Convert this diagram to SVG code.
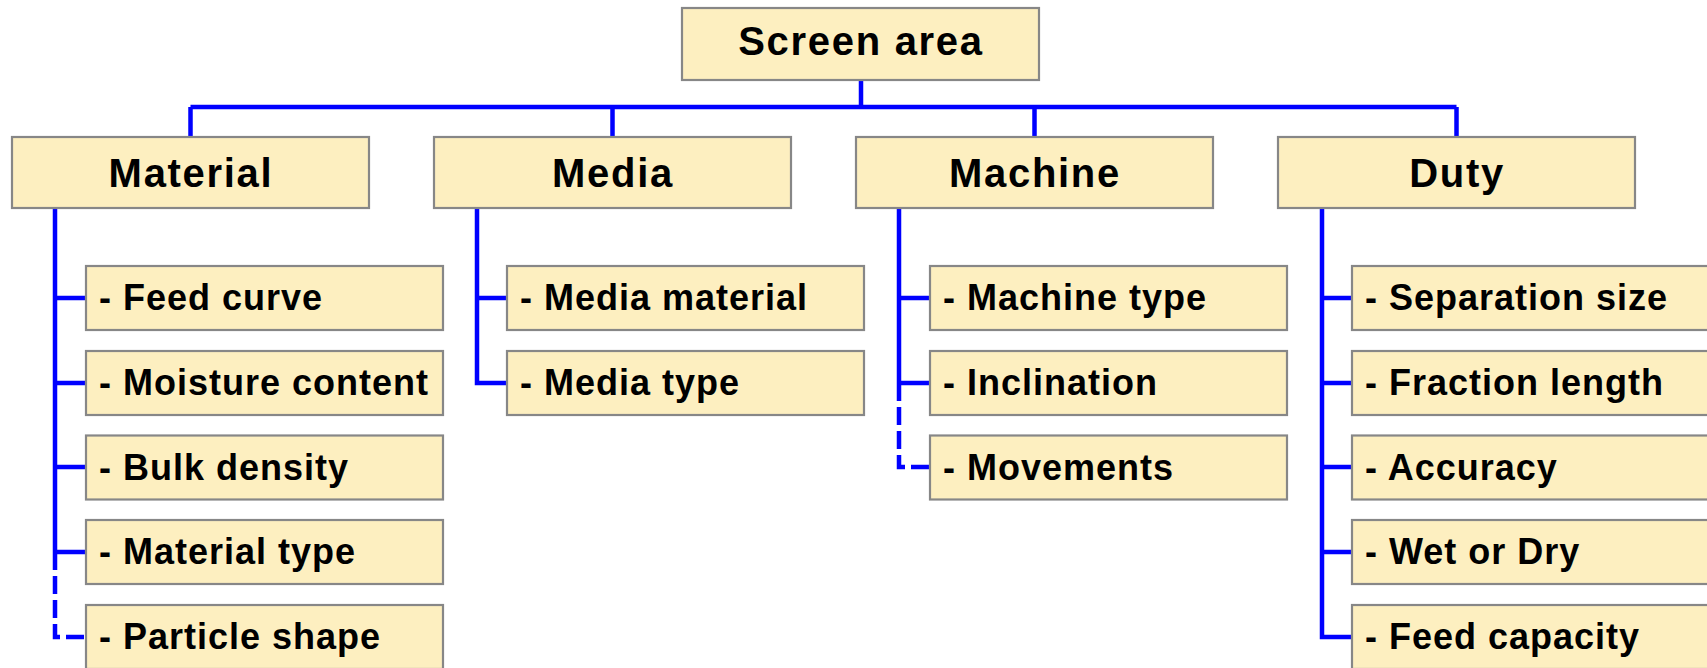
<svg xmlns="http://www.w3.org/2000/svg" width="1707" height="668" viewBox="0 0 1707 668">
<style>
.box{fill:#FDEFC0;stroke:#878787;stroke-width:2.2}
.t{font-family:"Liberation Sans",Arial,sans-serif;font-weight:bold;fill:#000}
.top{font-size:40px;letter-spacing:1.7px;text-anchor:middle}
.sub{font-size:36px;letter-spacing:1px}
.ln{fill:none;stroke:#0000FF;stroke-width:4.5;stroke-linejoin:miter}
.dash{stroke-dasharray:18 6}
</style>
<rect width="1707" height="668" fill="#fff"/>
<g id="connectors">
<path class="ln" d="M861 80V107M190.5 107H1456.5M190.5 107V137M612.5 107V137M1034.5 107V137M1456.5 107V137"/>
<path class="ln" d="M55 208V552M55 298H86M55 383H86M55 467H86M55 552H86"/>
<path class="ln dash" d="M55 552V637H86"/>
<path class="ln" d="M477 208V383H507M477 298H507"/>
<path class="ln" d="M899 208V383M899 298H930M899 383H930"/>
<path class="ln dash" d="M899 383V467H930"/>
<path class="ln" d="M1322 208V637H1352M1322 298H1352M1322 383H1352M1322 467H1352M1322 552H1352"/>
</g>
<g id="screen-area"><rect class="box" x="682" y="8" width="357" height="72"/><text class="t top" x="861" y="55">Screen area</text></g>
<g id="material"><rect class="box" x="12" y="137" width="357" height="71"/><text class="t top" x="191" y="187">Material</text></g>
<g id="media"><rect class="box" x="434" y="137" width="357" height="71"/><text class="t top" x="613" y="187">Media</text></g>
<g id="machine"><rect class="box" x="856" y="137" width="357" height="71"/><text class="t top" x="1035" y="187">Machine</text></g>
<g id="duty"><rect class="box" x="1278" y="137" width="357" height="71"/><text class="t top" x="1457" y="187">Duty</text></g>
<g id="feed-curve"><rect class="box" x="86" y="266" width="357" height="64"/><text class="t sub" x="99" y="310">- Feed curve</text></g>
<g id="moisture-content"><rect class="box" x="86" y="351" width="357" height="64"/><text class="t sub" x="99" y="395">- Moisture content</text></g>
<g id="bulk-density"><rect class="box" x="86" y="435.5" width="357" height="64"/><text class="t sub" x="99" y="479.5">- Bulk density</text></g>
<g id="material-type"><rect class="box" x="86" y="520" width="357" height="64"/><text class="t sub" x="99" y="564">- Material type</text></g>
<g id="particle-shape"><rect class="box" x="86" y="605" width="357" height="64"/><text class="t sub" x="99" y="649">- Particle shape</text></g>
<g id="media-material"><rect class="box" x="507" y="266" width="357" height="64"/><text class="t sub" x="520" y="310">- Media material</text></g>
<g id="media-type"><rect class="box" x="507" y="351" width="357" height="64"/><text class="t sub" x="520" y="395">- Media type</text></g>
<g id="machine-type"><rect class="box" x="930" y="266" width="357" height="64"/><text class="t sub" x="943" y="310">- Machine type</text></g>
<g id="inclination"><rect class="box" x="930" y="351" width="357" height="64"/><text class="t sub" x="943" y="395">- Inclination</text></g>
<g id="movements"><rect class="box" x="930" y="435.5" width="357" height="64"/><text class="t sub" x="943" y="479.5">- Movements</text></g>
<g id="separation-size"><rect class="box" x="1352" y="266" width="357" height="64"/><text class="t sub" x="1365" y="310">- Separation size</text></g>
<g id="fraction-length"><rect class="box" x="1352" y="351" width="357" height="64"/><text class="t sub" x="1365" y="395">- Fraction length</text></g>
<g id="accuracy"><rect class="box" x="1352" y="435.5" width="357" height="64"/><text class="t sub" x="1365" y="479.5">- Accuracy</text></g>
<g id="wet-or-dry"><rect class="box" x="1352" y="520" width="357" height="64"/><text class="t sub" x="1365" y="564">- Wet or Dry</text></g>
<g id="feed-capacity"><rect class="box" x="1352" y="605" width="357" height="64"/><text class="t sub" x="1365" y="649">- Feed capacity</text></g>
</svg>
